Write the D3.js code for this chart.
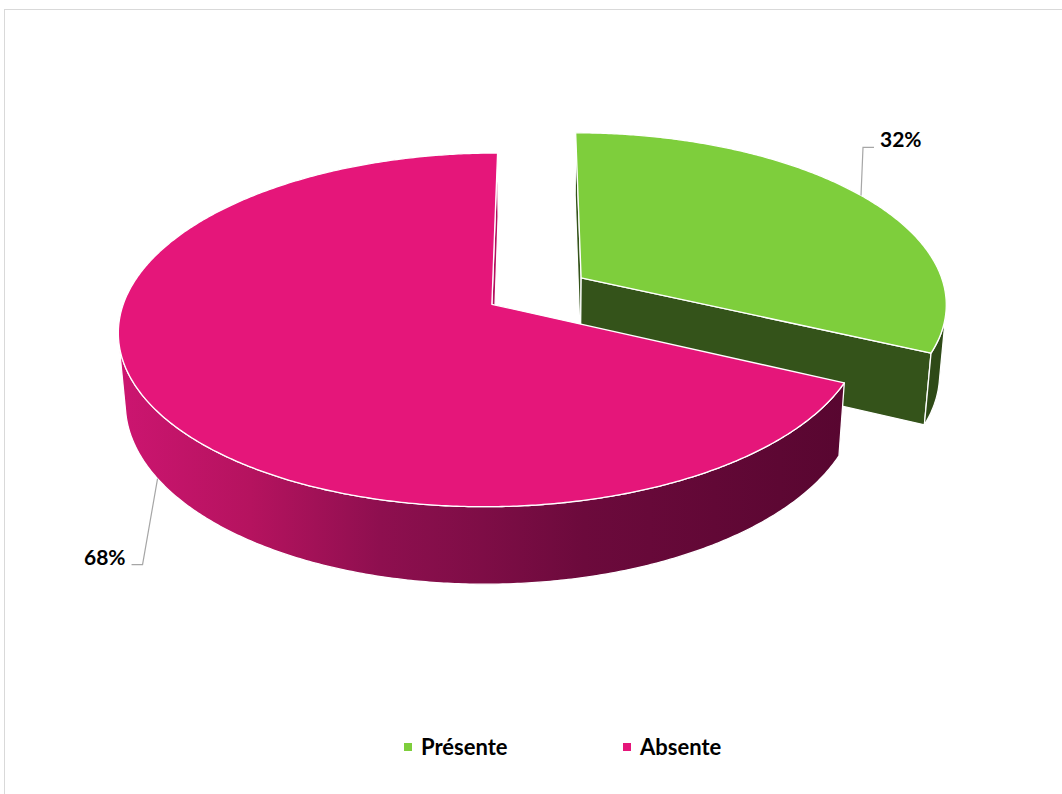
<!DOCTYPE html>
<html>
<head>
<meta charset="utf-8">
<script src="https://cdn.jsdelivr.net/npm/d3@7"></script>
<style>
  body { margin: 0; background: #ffffff; }
  svg { display: block; }
</style>
</head>
<body>
<svg id="chart" width="1062" height="794"></svg>
<script>
// ---- data ----
const categories = ["Présente", "Absente"];
const values = [32, 68];
const labels = ["32%", "68%"];

// ---- colours ----
const topColors = ["#7ECE3C", "#E5167A"];
const sideColors = ["#34531A", "#B3105F"];
const outerWallColors = ["#2E4A17", "url(#pinkWall)"];

// ---- 3D view ----
const W = 1062, H = 794;
const cx = 537, cy = 291;          // screen position of the pie axis (top face)
const focal = 2260;               // perspective focal length
const camDist = 6.2;              // camera distance (in pie radii)
const tilt = Math.asin(0.4646);   // viewing elevation
const thick = 0.218;              // pie height (in radii)
const explode = 0.145;            // slice offset along its mid angle
const R = 1;

const svg = d3.select("#chart");
const defs = svg.append("defs");

const grad = defs.append("linearGradient")
  .attr("id", "pinkWall")
  .attr("gradientUnits", "userSpaceOnUse")
  .attr("x1", 120).attr("y1", 0).attr("x2", 845).attr("y2", 0);
[[0, "#CC1570"], [0.18, "#B5135F"], [0.36, "#8E0F4F"], [0.5, "#7E0D46"],
 [0.64, "#6C0A3C"], [1, "#580630"]].forEach(([o, c]) =>
  grad.append("stop").attr("offset", o).attr("stop-color", c));

// chart area frame
svg.append("rect")
  .attr("x", 4.5).attr("y", 9.5)
  .attr("width", W + 20).attr("height", H + 20)
  .attr("fill", "none").attr("stroke", "#D9D9D9").attr("stroke-width", 1);

const cosT = Math.cos(tilt), sinT = Math.sin(tilt);
const camera = [0, camDist * sinT, -camDist * cosT];

function depth(x, y, z) { return camDist + z * cosT - y * sinT; }
function project(x, y, z) {
  const d = depth(x, y, z);
  return [cx + focal * x / d, cy - focal * (y * cosT + z * sinT) / d];
}

const pie = d3.pie().sort(null).value(d => d)
  .startAngle(0).endAngle(2 * Math.PI);
const arcs = pie(values);

const line = d3.line();
const step = Math.PI / 360;

function angleSamples(a0, a1) {
  const n = Math.max(2, Math.ceil((a1 - a0) / step));
  return d3.range(n + 1).map(i => a0 + (a1 - a0) * i / n);
}

const slices = arcs.map((a, i) => {
  const mid = (a.startAngle + a.endAngle) / 2;
  const ox = explode * Math.sin(mid), oz = explode * Math.cos(mid);
  const rim = (t, y, r = R) => project(ox + r * Math.sin(t), y, oz + r * Math.cos(t));
  const center = y => project(ox, y, oz);
  const wallFacing = t => {
    const px = ox + R * Math.sin(t), pz = oz + R * Math.cos(t);
    return Math.sin(t) * (camera[0] - px) + Math.cos(t) * (camera[2] - pz) > 0;
  };
  return { a, i, mid, ox, oz, rim, center, wallFacing, d: depth(ox, 0, oz) };
});

// farther slices first
const order = slices.slice().sort((p, q) => q.d - p.d);

const g = svg.append("g");

order.forEach(s => {
  const { a, i, ox, oz, rim, center } = s;
  const sg = g.append("g");
  const edgeStroke = sel => sel.attr("stroke", "#ffffff").attr("stroke-width", 1.3)
    .attr("stroke-linejoin", "round");

  // radial side walls
  [[a.startAngle, -1], [a.endAngle, 1]].forEach(([t, sgn]) => {
    const nx = sgn * Math.cos(t), nz = -sgn * Math.sin(t);
    const vis = nx * (camera[0] - ox) + nz * (camera[2] - oz) > 0;
    if (!vis) return;
    const pts = [center(0), rim(t, 0), rim(t, -thick), center(-thick)];
    sg.append("path").attr("d", line(pts) + "Z")
      .attr("fill", sideColors[i]).call(edgeStroke);
  });

  // curved outer wall: visible runs only
  const samples = angleSamples(a.startAngle, a.endAngle);
  const runs = [];
  let cur = null;
  samples.forEach(t => {
    if (s.wallFacing(t)) { if (!cur) { cur = []; runs.push(cur); } cur.push(t); }
    else cur = null;
  });
  runs.forEach(run => {
    if (run.length < 2) return;
    const topPts = run.map(t => rim(t, 0));
    const botPts = run.slice().reverse().map(t => rim(t, -thick));
    sg.append("path").attr("d", line(topPts.concat(botPts)) + "Z")
      .attr("fill", outerWallColors[i]).call(edgeStroke);
  });

  // top face
  const topPts = [center(0)].concat(samples.map(t => rim(t, 0)));
  sg.append("path").attr("d", line(topPts) + "Z")
    .attr("fill", topColors[i]).call(edgeStroke);
});

// ---- data labels with leader lines ----
const labelFont = "Lato, 'Open Sans', 'Liberation Sans', sans-serif";
const leaderOffsets = [
  { elbow: [2, -48], dir: 1 },
  { elbow: [-15, 86], dir: -1 }
];
slices.forEach(s => {
  const t = s.mid;
  const anchor = s.wallFacing(t) ? s.rim(t, -thick) : s.rim(t, 0);
  const off = leaderOffsets[s.i];
  const elbow = [anchor[0] + off.elbow[0], anchor[1] + off.elbow[1]];
  const end = [elbow[0] + off.dir * 11, elbow[1]];
  svg.append("path").attr("d", line([anchor, elbow, end]))
    .attr("fill", "none").attr("stroke", "#A6A6A6").attr("stroke-width", 1.2);
  svg.append("text")
    .attr("x", end[0] + off.dir * 6).attr("y", end[1])
    .attr("text-anchor", off.dir > 0 ? "start" : "end")
    .attr("font-family", labelFont).attr("font-weight", "bold")
    .attr("font-size", 21).attr("fill", "#000000")
    .text(labels[s.i]);
});

// ---- legend ----
const legendX = [404, 623];
const legendY = 747;
const lg = svg.append("g");
categories.forEach((c, i) => {
  lg.append("rect").attr("x", legendX[i]).attr("y", legendY - 4)
    .attr("width", 8).attr("height", 8).attr("fill", topColors[i]);
  lg.append("text").attr("x", legendX[i] + 17).attr("y", legendY + 8)
    .attr("font-family", labelFont).attr("font-weight", "bold")
    .attr("font-size", 22).attr("fill", "#000000")
    .text(c);
});
</script>
</body>
</html>
